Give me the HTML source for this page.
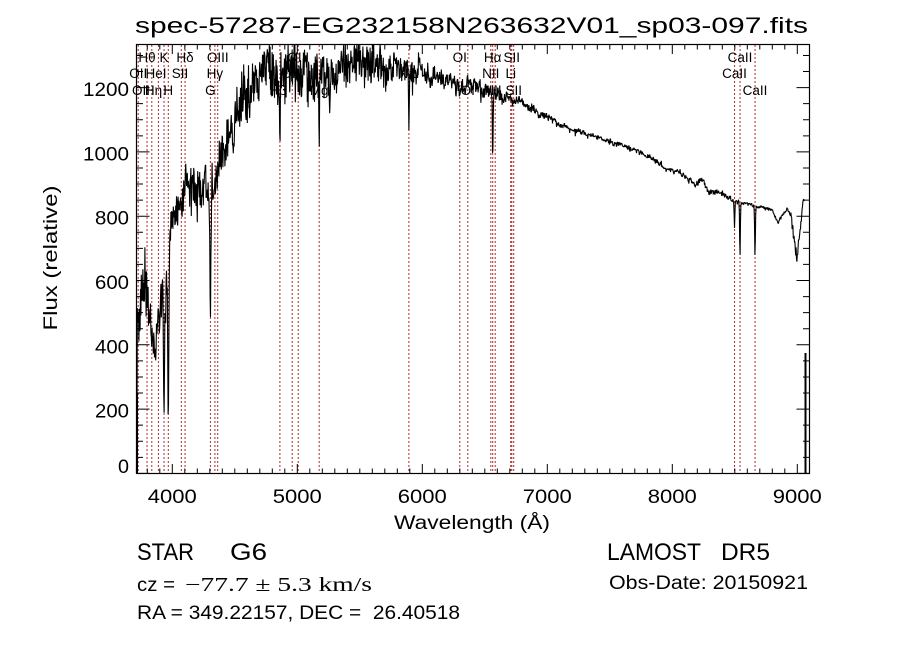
<!DOCTYPE html>
<html><head><meta charset="utf-8">
<style>
html,body{margin:0;padding:0;background:#fff;}
svg{display:block;}
text{font-family:"Liberation Sans",sans-serif;fill:#000;}
.ser{font-family:"Liberation Serif",serif;}
.lb{font-size:13.5px;text-anchor:middle;}
</style></head><body>
<svg id="s" width="900" height="649" viewBox="0 0 900 649" xmlns="http://www.w3.org/2000/svg">
<rect width="900" height="649" fill="#fff"/>
<text x="135" y="33" font-size="22" textLength="673" lengthAdjust="spacingAndGlyphs">spec-57287-EG232158N263632V01_sp03-097.fits</text>

<g stroke="#b22a2a" stroke-width="1" stroke-dasharray="2,2" fill="none">
<path d="M138.2 45V473M147.05 45V473M151.8 45V473M158.4 45V473M164.05 45V473M168.3 45V473M181.3 45V473M185.05 45V473M210.4 45V473M214.9 45V473M217.7 45V473M279.9 45V473M292.2 45V473M298.2 45V473M319.2 45V473M408.9 45V473M459.8 45V473M467.8 45V473M490.8 45V473M492.7 45V473M495.2 45V473M510.7 45V473M511.8 45V473M513.7 45V473M734.55 45V473M740.05 45V473M755.05 45V473"/>
</g>

<g class="lbl">
<!-- row 1 -->
<text class="lb" x="147" y="62">Hθ</text>
<text class="lb" x="164" y="62">K</text>
<text class="lb" x="185" y="62">Hδ</text>
<text class="lb" x="217.7" y="62">OIII</text>
<text class="lb" x="298.2" y="62">OIII</text>
<text class="lb" x="459.8" y="62">OI</text>
<text class="lb" x="492.7" y="62">Hα</text>
<text class="lb" x="511.8" y="62">SII</text>
<text class="lb" x="740" y="62">CaII</text>
<!-- row 2 -->
<text class="lb" x="138.2" y="78">OII</text>
<text class="lb" x="156" y="78">HeI</text>
<text class="lb" x="180" y="78">SII</text>
<text class="lb" x="214.9" y="78">Hγ</text>
<text class="lb" x="292.2" y="78">OIII</text>
<text class="lb" x="408.9" y="78">NaI</text>
<text class="lb" x="490.8" y="78">NII</text>
<text class="lb" x="510.7" y="78">Li</text>
<text class="lb" x="734.5" y="78">CaII</text>
<!-- row 3 -->
<text class="lb" x="141" y="95">OII</text>
<text class="lb" x="153.5" y="95">Hη</text>
<text class="lb" x="168.3" y="95">H</text>
<text class="lb" x="210.4" y="95">G</text>
<text class="lb" x="278" y="95">Hβ</text>
<text class="lb" x="319.2" y="95">Mg</text>
<text class="lb" x="467.8" y="95">OI</text>
<text class="lb" x="493" y="95">NII</text>
<text class="lb" x="513.7" y="95">SII</text>
<text class="lb" x="755" y="95">CaII</text>
</g>

<g id="spec"></g>
<rect x="136" y="393" width="2" height="80" fill="#000"/>
<rect x="804.5" y="353" width="2" height="120" fill="#000"/>

<g id="ticks" stroke="#000" stroke-width="1" fill="none"></g>
<rect x="136.5" y="44.5" width="673" height="429" fill="none" stroke="#000" stroke-width="1.2"/>

<!-- y tick labels -->
<g font-size="19.5" text-anchor="end">
<text x="129" y="96" textLength="46" lengthAdjust="spacingAndGlyphs">1200</text>
<text x="129" y="160.5" textLength="46" lengthAdjust="spacingAndGlyphs">1000</text>
<text x="129" y="224.5" textLength="34" lengthAdjust="spacingAndGlyphs">800</text>
<text x="129" y="289" textLength="34" lengthAdjust="spacingAndGlyphs">600</text>
<text x="129" y="353.5" textLength="34" lengthAdjust="spacingAndGlyphs">400</text>
<text x="129" y="417.5" textLength="34" lengthAdjust="spacingAndGlyphs">200</text>
<text x="129" y="473" textLength="11" lengthAdjust="spacingAndGlyphs">0</text>
</g>
<!-- x tick labels -->
<g font-size="19.5" text-anchor="middle">
<text x="172.3" y="503" textLength="49" lengthAdjust="spacingAndGlyphs">4000</text>
<text x="297.3" y="503" textLength="49" lengthAdjust="spacingAndGlyphs">5000</text>
<text x="422.3" y="503" textLength="49" lengthAdjust="spacingAndGlyphs">6000</text>
<text x="547.3" y="503" textLength="49" lengthAdjust="spacingAndGlyphs">7000</text>
<text x="672.3" y="503" textLength="49" lengthAdjust="spacingAndGlyphs">8000</text>
<text x="797.3" y="503" textLength="49" lengthAdjust="spacingAndGlyphs">9000</text>
</g>

<text x="472" y="529" font-size="19.5" text-anchor="middle" textLength="156" lengthAdjust="spacingAndGlyphs">Wavelength (Å)</text>
<text transform="translate(57,258) rotate(-90)" font-size="19.5" text-anchor="middle" textLength="145" lengthAdjust="spacingAndGlyphs">Flux (relative)</text>

<!-- bottom info -->
<text x="137" y="560" font-size="24" textLength="57" lengthAdjust="spacingAndGlyphs">STAR</text>
<text x="230" y="560" font-size="24" textLength="37" lengthAdjust="spacingAndGlyphs">G6</text>
<text x="137" y="591" font-size="19" textLength="38" lengthAdjust="spacingAndGlyphs">cz =</text>
<text class="ser" x="185" y="591" font-size="20" textLength="187" lengthAdjust="spacingAndGlyphs">−77.7 ± 5.3 km/s</text>
<text x="137" y="619" font-size="19" textLength="323" lengthAdjust="spacingAndGlyphs">RA = 349.22157, DEC =&#160; 26.40518</text>
<text x="607" y="560" font-size="24" textLength="94" lengthAdjust="spacingAndGlyphs">LAMOST</text>
<text x="721" y="560" font-size="24" textLength="49" lengthAdjust="spacingAndGlyphs">DR5</text>
<text x="609" y="589" font-size="19" textLength="199" lengthAdjust="spacingAndGlyphs">Obs-Date: 20150921</text>
</svg>
<script>
(function(){
var NS="http://www.w3.org/2000/svg";
function X(w){return 172.3+(w-4000)*0.125;}
function Y(v){return 473.4-0.3215*v;}
// ticks
var t='';
for(var w=3800;w<=9000;w+=100){var x=X(w).toFixed(2);var L=(w%1000===0)?9.5:5;t+='M'+x+' 473.5v-'+L+'M'+x+' 44.5v'+L;}
for(var v=0;v<=1300;v+=50){var y=Y(v);if(y<45)continue;y=y.toFixed(2);var L2=(v%200===0)?13:6.5;t+='M136.5 '+y+'h'+L2+'M809.5 '+y+'h-'+L2;}
var tp=document.createElementNS(NS,'path');tp.setAttribute('d',t);document.getElementById('ticks').appendChild(tp);
// spectrum
function rng(a){return function(){a|=0;a=a+0x6D2B79F5|0;var q=Math.imul(a^a>>>15,1|a);q=q+Math.imul(q^q>>>7,61|q)^q;return((q^q>>>14)>>>0)/4294967296;};}
var A=[[137,310,30],[141,300,32],[145,285,28],[149,290,22],[151,335,18],[155,345,15],[158,320,25],[161,290,25],[163,300,25],[166,300,30],[169,255,15],[172,222,18],[175,205,20],[180,198,22],[185,188,24],[195,185,24],[205,185,24],[209,200,18],[212,185,28],[216,175,28],[220,160,20],[225,150,22],[230,130,25],[236,112,25],[242,100,28],[250,85,28],[260,76,28],[270,72,26],[290,72,26],[300,78,28],[315,82,28],[325,76,26],[340,68,25],[355,64,24],[370,64,22],[390,66,20],[405,68,14],[420,72,12],[440,78,11],[460,85,10],[480,88,9],[500,96,7],[520,100,5],[540,115,4],[550,118,4],[560,125,3],[580,131,3],[600,139,3],[620,145,3],[640,152,3],[655,160,3],[665,168,3],[680,172,3],[695,185,3],[703,180,4],[708,192,3],[720,193,3],[733,200,3],[745,203,2],[760,208,2],[772,209,2],[778,222,3],[787,208,2],[791,215,3],[794,245,10],[797,255,8],[800,232,5],[803,198,2],[804.5,200,1]];
var LN=[[164.05,140,0.7],[168.3,155,0.7],[210.4,100,0.8],[214.9,25,0.6],[279.9,72,0.5],[319.2,70,0.6],[408.9,65,0.5],[492.7,65,0.5],[734.5,28,0.5],[740,55,0.5],[755,48,0.5]];
var r=rng(12345),low=0,k=0;
var d='M136.5 473L136.7 400L136.9 460L137.1 395';
for(var x=137.3;x<=804.5;x+=0.4){
  while(k<A.length-2&&A[k+1][0]<x)k++;
  var a0=A[k],a1=A[k+1],f=(x-a0[0])/(a1[0]-a0[0]);if(f<0)f=0;if(f>1)f=1;
  var m=a0[1]+(a1[1]-a0[1])*f,am=a0[2]+(a1[2]-a0[2])*f;
  low=0.8*low+0.35*(r()*2-1);
  var n=am*(0.8*(r()*2-1)+0.8*low);
  if(r()<0.03)n+=am*(r()<0.5?-1:1)*0.9;
  var y=m+n;
  for(var i=0;i<LN.length;i++){var z=(x-LN[i][0])/LN[i][2];if(Math.abs(z)<4)y+=LN[i][1]*Math.exp(-z*z);}
  if(y<44.5)y=44.5;if(y>473)y=473;
  d+='L'+x.toFixed(2)+' '+y.toFixed(1);
}
var sp=document.createElementNS(NS,'path');
sp.setAttribute('d',d);sp.setAttribute('fill','none');sp.setAttribute('stroke','#000');sp.setAttribute('stroke-width','1.1');sp.setAttribute('stroke-linejoin','bevel');
document.getElementById('spec').appendChild(sp);
})();
</script>
</body></html>
